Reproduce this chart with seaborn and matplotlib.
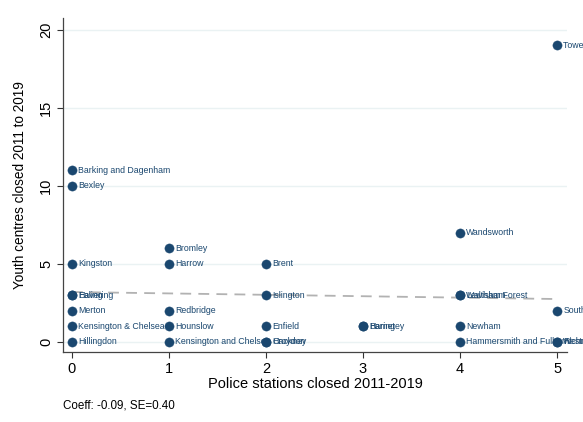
import matplotlib
matplotlib.use("Agg")
import matplotlib.pyplot as plt
import numpy as np
import pandas as pd
import seaborn as sns

# Borough-level closures, 2011-2019
boroughs = [
    "Barking and Dagenham", "Bexley", "Kingston", "Ealing", "Havering",
    "Merton", "Kensington & Chelsea", "Hillingdon",
    "Bromley", "Harrow", "Redbridge", "Hounslow", "Kensington and Chelsea",
    "Brent", "Islington", "Enfield", "Croydon", "Hackney",
    "Barnet", "Haringey",
    "Wandsworth", "Lewisham", "Waltham Forest", "Newham", "Hammersmith and Fulham",
    "Tower Hamlets", "Southwark", "Westminster", "Richmond",
]
police_closed = [
    0, 0, 0, 0, 0, 0, 0, 0,
    1, 1, 1, 1, 1,
    2, 2, 2, 2, 2,
    3, 3,
    4, 4, 4, 4, 4,
    5, 5, 5, 5,
]
youth_closed = [
    11, 10, 5, 3, 3, 2, 1, 0,
    6, 5, 2, 1, 0,
    5, 3, 1, 0, 0,
    1, 1,
    7, 3, 3, 1, 0,
    19, 2, 0, 0,
]

# Linear fit reported beneath the chart
fit_coeff = -0.09
fit_se = 0.40
fit_intercept = 3.2
fit_x = [0, 5]

x_ticks = [0, 1, 2, 3, 4, 5]
y_ticks = [0, 5, 10, 15, 20]

df = pd.DataFrame({"borough": boroughs, "police": police_closed, "youth": youth_closed})
fit_df = pd.DataFrame({"x": fit_x, "y": [fit_intercept + fit_coeff * v for v in fit_x]})

sns.set_theme(style="white")
plt.rcParams["font.family"] = ["Liberation Sans", "DejaVu Sans"]

navy = "#1a476f"

fig = plt.figure(figsize=(5.83, 4.22), dpi=100)
ax = fig.add_axes([0.108, 0.166, 0.8646, 0.792])

for yv in y_ticks:
    ax.axhline(yv, color="#eaf2f3", lw=1.0, zorder=0)

sns.lineplot(data=fit_df, x="x", y="y", ax=ax, color="#b2b2b2", lw=1.3,
             linestyle=(0, (6, 4)), zorder=1)

sns.scatterplot(data=df, x="police", y="youth", ax=ax, color=navy, s=44,
                edgecolor=navy, linewidth=0.3, zorder=3)

for _, r in df.iterrows():
    ax.annotate(r["borough"], (r["police"], r["youth"]), xytext=(4.5, 0),
                textcoords="offset points", ha="left", va="center",
                fontsize=6.3, color=navy, zorder=4, annotation_clip=False)

ax.set_xlim(-0.093, 5.103)
ax.set_ylim(-0.64, 20.77)
ax.set_xticks(x_ticks)
ax.set_yticks(y_ticks)
ax.set_yticklabels([str(v) for v in y_ticks], rotation=90, va="center")
ax.tick_params(axis="both", direction="out", length=4, width=0.8, color="#333333",
               labelsize=10.5, labelcolor="black", pad=3, left=True, bottom=True)

for side in ("top", "right"):
    ax.spines[side].set_visible(False)
for side in ("left", "bottom"):
    ax.spines[side].set_color("#444444")
    ax.spines[side].set_linewidth(0.9)

ax.set_xlabel("Police stations closed 2011-2019", fontsize=10.5, color="black", labelpad=1)
ax.set_ylabel("Youth centres closed 2011 to 2019", fontsize=9.8, color="black", labelpad=9)

fig.text(63 / 583, 1 - 405 / 422, f"Coeff: {fit_coeff:.2f}, SE={fit_se:.2f}",
         fontsize=8.4, color="black", ha="left", va="center")

fig.savefig("out.png", dpi=100, facecolor="white")
